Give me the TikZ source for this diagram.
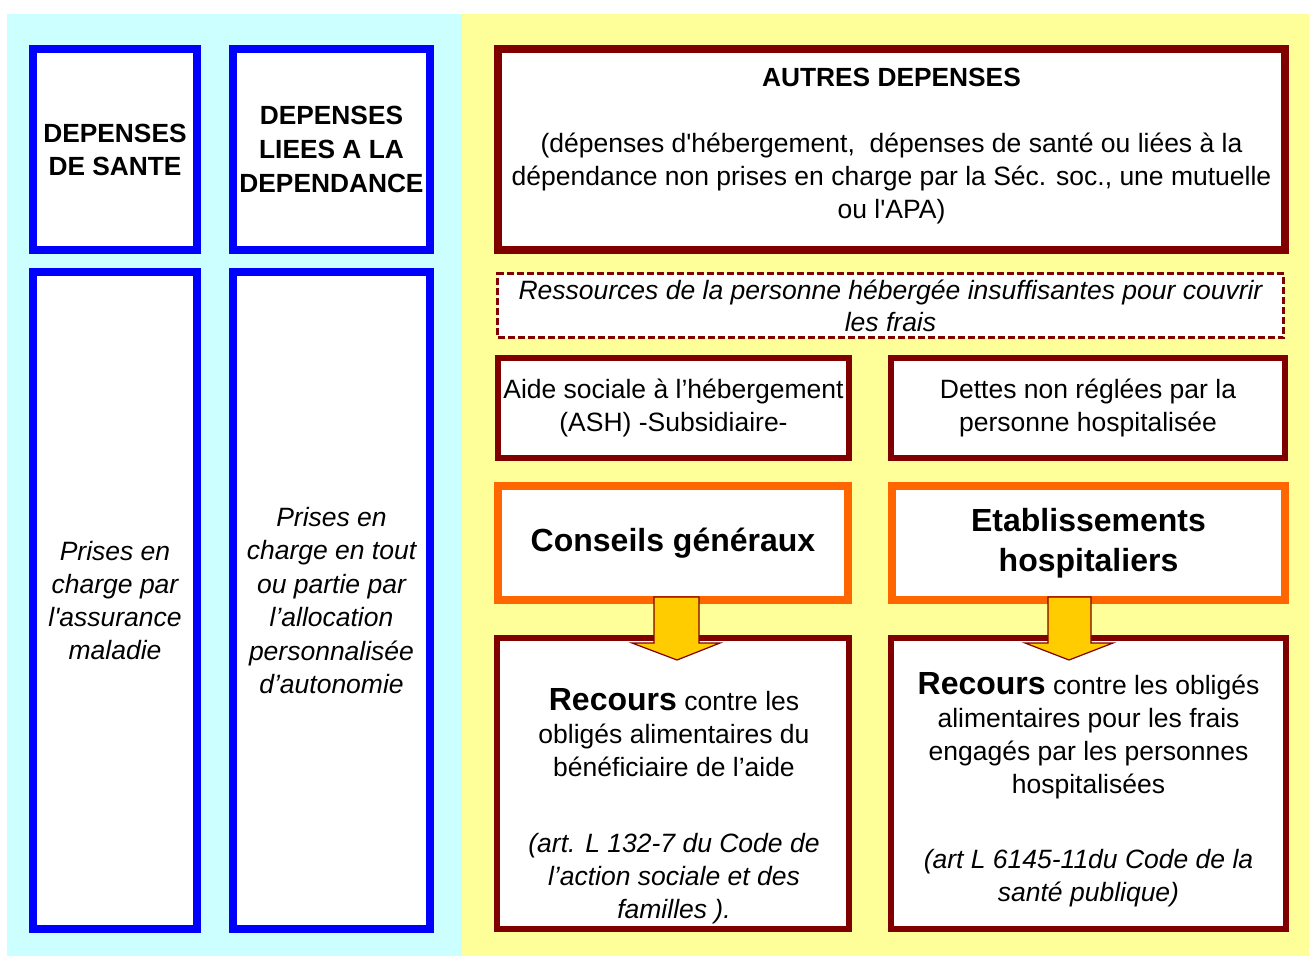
\documentclass[tikz,border=0pt]{standalone}
\usepackage{fontspec}
\setmainfont{Liberation Sans}
\definecolor{mycyan}{HTML}{CCFFFF}
\definecolor{myyellow}{HTML}{FFFF99}
\definecolor{myblue}{HTML}{0000FF}
\definecolor{mydarkred}{HTML}{800000}
\definecolor{myorange}{HTML}{FF6600}
\definecolor{myarrow}{HTML}{FFCC00}
\newcommand{\sq}{\textquotesingle}
\begin{document}
\begin{tikzpicture}[x=1pt,y=-1pt,
  box/.style={draw, fill=white, inner sep=0pt, align=center, font=\fontsize{26.5}{33}\selectfont},
  bluebox/.style={box, draw=myblue, line width=8pt},
  redbox/.style={box, draw=mydarkred, line width=8pt},
  redthin/.style={box, draw=mydarkred, line width=6pt},
  dashbox/.style={box, draw=mydarkred, line width=3pt, dash pattern=on 7pt off 3pt},
  orangebox/.style={box, draw=myorange, line width=8pt},
  txt/.style={align=center, inner sep=0pt, font=\fontsize{26.5}{33}\selectfont},
  blockarrow/.style={fill=myarrow, draw=mydarkred, line width=1.2pt, line join=miter}
]
\useasboundingbox (0,0) rectangle (1309,956);
\fill[white] (0,0) rectangle (1309,956);
\fill[mycyan] (7,14) rectangle (462,956);
\fill[myyellow] (462,14) rectangle (1309,956);

% left column
\node[bluebox, minimum width=164pt, minimum height=201pt, font=\fontsize{26.3}{33}\selectfont\bfseries] (ds) at (115,149.5) {DEPENSES\\DE SANTE};
\node[bluebox, minimum width=197pt, minimum height=201pt, font=\fontsize{26.3}{34}\selectfont\bfseries] (dd) at (331.5,149.5) {DEPENSES\\LIEES A LA\\DEPENDANCE};
\node[bluebox, minimum width=164pt, minimum height=657pt, font=\fontsize{26.5}{33}\selectfont\itshape] (am) at (115,600.5) {Prises en\\charge par\\l\sq assurance\\maladie};
\node[bluebox, minimum width=197pt, minimum height=657pt, font=\fontsize{26.5}{33.4}\selectfont\itshape] (apa) at (331.5,600.5) {Prises en\\charge en tout\\ou partie par\\l’allocation\\personnalisée\\d’autonomie};

% right column
\node[redbox, minimum width=787pt, minimum height=201pt] (ad) at (891.5,149.5) {};
\node[txt] (adt) at (891.5,146) {{\fontsize{26.3}{33}\selectfont\bfseries AUTRES DEPENSES}\\[33pt](dépenses d\sq hébergement,\ \ dépenses de santé ou liées à la\\dépendance non prises en charge par la Séc. soc., une mutuelle\\ou l\sq APA)};
\node[dashbox, minimum width=786pt, minimum height=64pt, font=\fontsize{26.5}{32}\selectfont\itshape] (res) at (890.5,305.5) {Ressources de la personne hébergée insuffisantes pour couvrir\\les frais};
\node[redthin, minimum width=351pt, minimum height=100pt] (ash) at (673.5,408) {Aide sociale à l’hébergement\\(ASH) -Subsidiaire-};
\node[redthin, minimum width=394pt, minimum height=100pt] (det) at (1088,408) {Dettes non réglées par la\\personne hospitalisée};
\node[orangebox, minimum width=350pt, minimum height=114pt, font=\fontsize{32}{40}\selectfont\bfseries] (cg) at (673,543) {Conseils généraux};
\node[orangebox, minimum width=393pt, minimum height=114pt, font=\fontsize{32}{40}\selectfont\bfseries] (eh) at (1088.5,543) {Etablissements\\hospitaliers};
\node[redthin, minimum width=352pt, minimum height=291pt] (rl) at (673,783.5) {};
\node[redthin, minimum width=395pt, minimum height=291pt] (rr) at (1088.5,783.5) {};
\node[txt] (rlt) at (674,806) {{\fontsize{32}{36}\selectfont\bfseries Recours} contre les\\obligés alimentaires du\\bénéficiaire de l’aide\\[43pt]\textit{(art. L 132-7 du Code de}\\\textit{l’action sociale et des}\\\textit{familles ).}};
\node[txt] (rrt) at (1088.5,790) {{\fontsize{32}{36}\selectfont\bfseries Recours} contre les obligés\\alimentaires pour les frais\\engagés par les personnes\\hospitalisées\\[42pt]\textit{(art L 6145-11du Code de la}\\\textit{santé publique)}};

% block arrows
\draw[blockarrow] (654,597) -- (699,597) -- (699,643) -- (720,643) -- (677,660) -- (632,643) -- (654,643) -- cycle;
\draw[blockarrow] (1048,597) -- (1091,597) -- (1091,643) -- (1113,643) -- (1069,660) -- (1025,643) -- (1048,643) -- cycle;
\end{tikzpicture}
\end{document}
